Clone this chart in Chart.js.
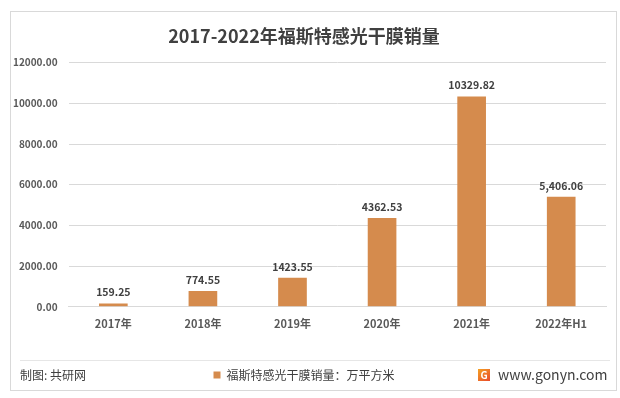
<!DOCTYPE html>
<html><head><meta charset="utf-8">
<script src="https://cdn.jsdelivr.net/npm/chart.js@4.4.0/dist/chart.umd.min.js"></script>
<style>html,body{margin:0;padding:0;background:#fff;}#wrap{width:620px;height:398px;position:relative;}</style>
</head><body><div id="wrap"><canvas id="c" width="620" height="398"></canvas></div>
<script>
const categories = ['2017年','2018年','2019年','2020年','2021年','2022年H1'];
const values = [159.25, 774.55, 1423.55, 4362.53, 10329.82, 5406.06];
const valueLabels = ['159.25','774.55','1423.55','4362.53','10329.82','5,406.06'];
const yTicks = [0, 2000, 4000, 6000, 8000, 10000, 12000];
const seriesName = '福斯特感光干膜销量：万平方米';
const FONT = '"Noto Sans CJK SC", "Noto Sans", sans-serif';

const decor = {
  id: 'decor',
  beforeDraw(chart) {
    const ctx = chart.ctx;
    ctx.save();
    ctx.fillStyle = '#fff';
    ctx.fillRect(0, 0, chart.width, chart.height);
    ctx.restore();
  },
  afterDraw(chart) {
    const ctx = chart.ctx;
    ctx.save();
    ctx.strokeStyle = '#d9d9d9';
    ctx.lineWidth = 1;
    ctx.strokeRect(10.5, 11.5, 606, 379);
    ctx.beginPath();
    ctx.moveTo(20, 360.5); ctx.lineTo(610, 360.5);
    ctx.strokeStyle = '#e6e6e6';
    ctx.stroke();
    // data labels
    const meta = chart.getDatasetMeta(0);
    ctx.font = 'bold 10.5px ' + FONT;
    ctx.fillStyle = '#404040';
    ctx.textAlign = 'center';
    ctx.textBaseline = 'bottom';
    meta.data.forEach((bar, i) => {
      ctx.fillText(valueLabels[i], bar.x, bar.y - 6);
    });
    // footer left
    ctx.font = '12px ' + FONT;
    ctx.fillStyle = '#404040';
    ctx.textAlign = 'left';
    ctx.textBaseline = 'middle';
    ctx.fillText('制图: 共研网', 20, 375);
    // logo
    const g = ctx.createLinearGradient(478, 368, 490, 382);
    g.addColorStop(0, '#f5a623'); g.addColorStop(1, '#e8452c');
    ctx.fillStyle = g;
    ctx.fillRect(478, 369, 12, 12);
    ctx.fillStyle = '#fff';
    ctx.font = 'bold 10px ' + FONT;
    ctx.textAlign = 'center';
    ctx.fillText('G', 484, 375.5);
    ctx.font = '14px ' + FONT;
    ctx.fillStyle = '#404040';
    ctx.textAlign = 'left';
    ctx.fillText('www.gonyn.com', 498, 375);
    ctx.restore();
  }
};

new Chart(document.getElementById('c'), {
  type: 'bar',
  data: {
    labels: categories,
    datasets: [{
      label: seriesName,
      data: values,
      backgroundColor: '#D58B4D',
      barPercentage: 0.64,
      categoryPercentage: 0.5
    }]
  },
  options: {
    responsive: false,
    animation: false,
    devicePixelRatio: 1,
    layout: { padding: { left: 2, right: 14, top: 21, bottom: 7 } },
    plugins: {
      title: {
        display: true,
        text: '2017-2022年福斯特感光干膜销量',
        color: '#404040',
        font: { family: FONT, size: 18, weight: 'bold' },
        padding: { top: 4, bottom: 16 }
      },
      legend: {
        display: true,
        position: 'bottom',
        labels: {
          color: '#404040',
          font: { family: FONT, size: 12 },
          boxWidth: 7, boxHeight: 7,
          padding: 4
        }
      },
      tooltip: { enabled: false }
    },
    scales: {
      x: {
        grid: { display: false },
        border: { color: '#d9d9d9' },
        ticks: { color: '#595959', font: { family: FONT, size: 11, weight: 'bold' }, padding: 2 },
        afterFit(axis) { axis.height += 33; }
      },
      y: {
        min: 0, max: 12000,
        afterBuildTicks(axis) { axis.ticks = yTicks.map(v => ({ value: v })); },
        grid: { color: '#d9d9d9', drawTicks: false },
        border: { display: false },
        ticks: {
          color: '#595959', font: { family: FONT, size: 10, weight: 'bold' }, padding: 11,
          callback: v => Number(v).toFixed(2)
        }
      }
    }
  },
  plugins: [decor]
});
</script></body></html>
